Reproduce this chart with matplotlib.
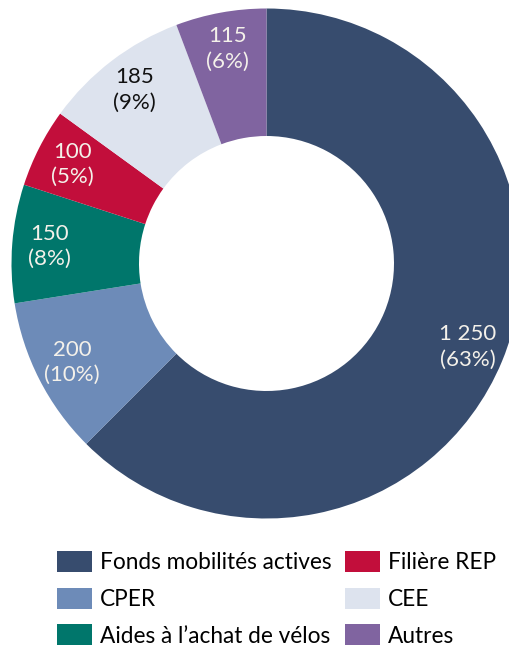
"""Donut chart: financement du plan vélo par source (M€)."""

import matplotlib

matplotlib.use("Agg")
import matplotlib.pyplot as plt
import numpy as np
from matplotlib.patches import Patch

plt.rcParams["font.family"] = ["Lato", "DejaVu Sans"]

# Données (ordre horaire depuis midi).
categories = ["Fonds mobilités actives", "CPER", "Aides à l\u2019achat de vélos",
              "Filière REP", "CEE", "Autres"]
values = [1250, 200, 150, 100, 185, 115]
value_labels = ["1 250", "200", "150", "100", "185", "115"]
colors = ["#374c6e", "#6d8bb8", "#00766b", "#c20e3b", "#dde3ee", "#8064a0"]
text_colors = ["#f4f1ea", "#f4f1ea", "#f4f1ea", "#f4f1ea", "#111111", "#f4f1ea"]

W, H = 509, 646
fig = plt.figure(figsize=(W / 100, H / 100), dpi=100)

# Axe positionné pour que l'anneau dépasse à droite, comme dans l'original.
cx, cy, r = 266.5, 263.5, 255
ax = fig.add_axes([(cx - r) / W, (H - cy - r) / H, 2 * r / W, 2 * r / H])

wedges, _ = ax.pie(values, colors=colors, startangle=90, counterclock=False,
                   radius=1, wedgeprops=dict(width=0.5, linewidth=0),
                   frame=True)
ax.set_xlim(-1, 1)
ax.set_ylim(-1, 1)
ax.set_aspect("equal")
ax.axis("off")

total = sum(values)
for w, v, lab, tc in zip(wedges, values, value_labels, text_colors):
    ang = np.deg2rad((w.theta1 + w.theta2) / 2)
    pct = int(100 * v / total + 0.5)  # arrondi "Excel" (62,5 -> 63)
    ax.text(0.855 * np.cos(ang), 0.855 * np.sin(ang), f"{lab}\n({pct}%)",
            ha="center", va="center", fontsize=16, color=tc, linespacing=1.35)

handles = [Patch(facecolor=c, edgecolor="none") for c in colors]
fig.legend(handles, categories, ncol=2,
           loc="upper left", bbox_to_anchor=(57 / W, 1 - 551 / H),
           frameon=False, fontsize=16.3, borderpad=0, borderaxespad=0,
           handlelength=1.55, handleheight=1.05, handletextpad=0.35,
           labelspacing=0.64, columnspacing=0.6)

fig.savefig("out.png", dpi=100)
